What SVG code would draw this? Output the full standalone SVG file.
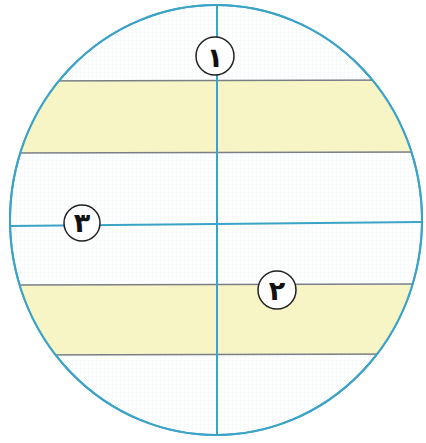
<svg xmlns="http://www.w3.org/2000/svg" width="426" height="443" viewBox="0 0 426 443">
<style>
.band{fill:#f7f5c6}
.sep{stroke:#7a7f86;stroke-width:1.4;fill:none}
.axis{stroke:#3aa3c6;stroke-width:2;fill:none}
.rim{stroke:#3aa3c6;stroke-width:2;fill:#fdfefe}
.badge circle{fill:#fff;stroke:#222;stroke-width:1.5}
.badge text{font-family:"DejaVu Sans",sans-serif;font-size:27px;font-weight:bold;fill:#111;text-anchor:middle;dominant-baseline:central}
</style>
<defs>
<clipPath id="disc"><ellipse cx="216" cy="220" rx="206" ry="215"/></clipPath>
<pattern id="grid" width="4" height="4" patternUnits="userSpaceOnUse">
<path d="M0 0H4M0 0V4" stroke="#e4ecf2" stroke-width="0.6"/>
</pattern>
</defs>
<rect width="426" height="443" fill="#fff"/>
<g id="disc-shape">
<ellipse class="rim" cx="216" cy="220" rx="206" ry="215"/>
<g clip-path="url(#disc)">
<rect x="0" y="0" width="426" height="443" fill="url(#grid)" opacity="0.6"/>
<rect class="band" x="0" y="81" width="426" height="72"/>
<rect class="band" x="0" y="285" width="426" height="70"/>
<line class="sep" x1="0" y1="81" x2="426" y2="80"/>
<line class="sep" x1="0" y1="153" x2="426" y2="152"/>
<line class="sep" x1="0" y1="285" x2="426" y2="284"/>
<line class="sep" x1="0" y1="355" x2="426" y2="354"/>
</g>
<ellipse cx="216" cy="220" rx="206" ry="215" fill="none" stroke="#3aa3c6" stroke-width="2"/>
</g>
<g id="connectors">
<line class="axis" x1="217" y1="5" x2="217" y2="435"/>
<line class="axis" x1="10" y1="226" x2="422" y2="222" stroke-width="2.4" stroke="#2f8fb5"/>
</g>
<g id="label-1" class="badge">
<circle cx="215" cy="56" r="19"/>
<text x="215" y="57">١</text>
</g>
<g id="label-3" class="badge">
<circle cx="82" cy="223" r="18"/>
<text x="82" y="222">٣</text>
</g>
<g id="label-2" class="badge">
<circle cx="277" cy="290" r="19"/>
<text x="277" y="290">٢</text>
</g>
</svg>
